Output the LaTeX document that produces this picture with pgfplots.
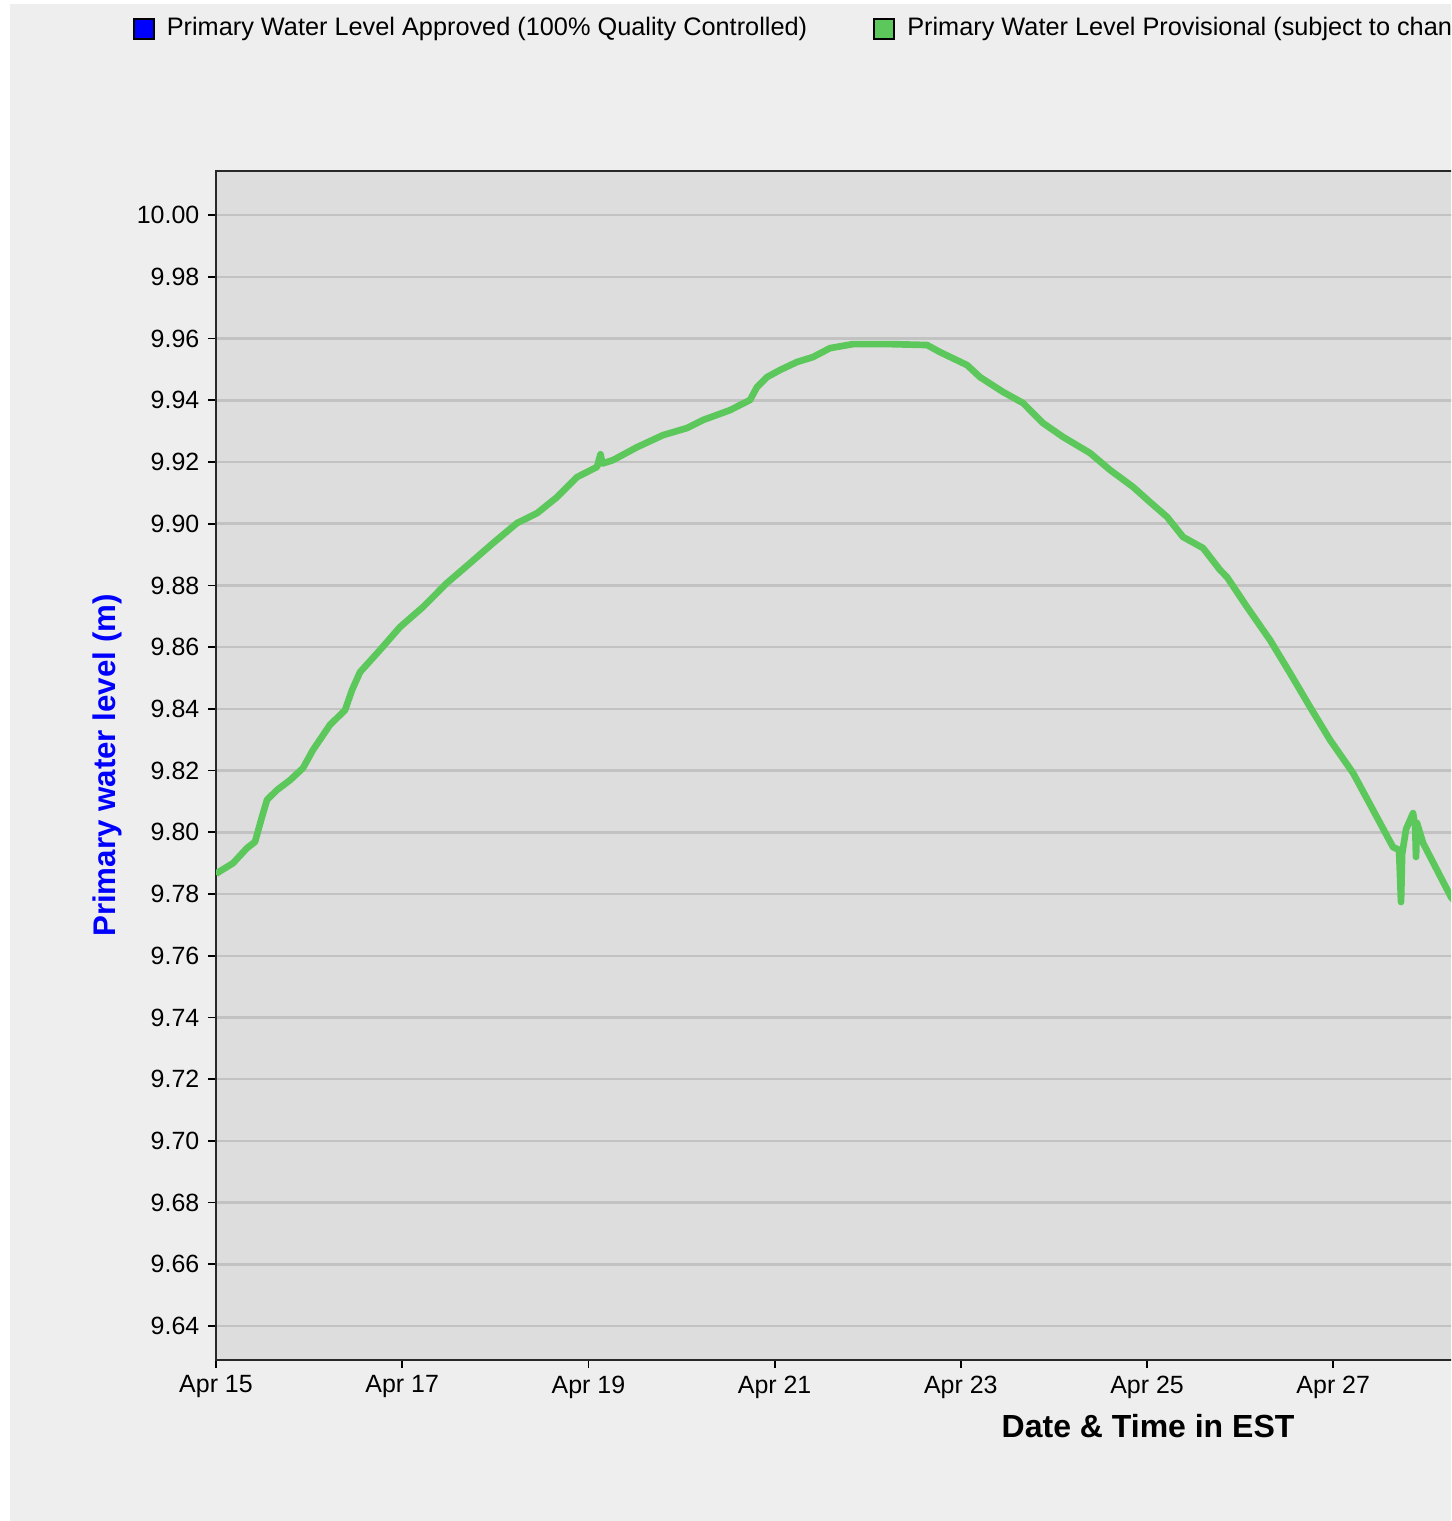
\documentclass[border=0pt]{standalone}
\usepackage{fontspec}
\setmainfont{Liberation Sans}
\usepackage{pgfplots}
\pgfplotsset{compat=1.18}
\definecolor{outerbg}{RGB}{238,238,238}
\definecolor{plotbg}{RGB}{221,221,221}
\definecolor{gridc}{RGB}{194,194,194}
\definecolor{linegreen}{RGB}{92,200,92}
\definecolor{framec}{RGB}{40,40,40}
\begin{document}
\begin{tikzpicture}[x=1cm,y=1cm]
\path[use as bounding box] (0,0) rectangle (14.51,15.21);
\clip (0,0) rectangle (14.51,15.21);
\fill[white] (0,0) rectangle (14.51,15.21);
\fill[outerbg] (0.10,0) rectangle (14.51,15.17);
\begin{axis}[
  at={(2.16cm,1.61cm)}, anchor=south west,
  scale only axis, width=12.65cm, height=11.89cm,
  xmin=0, xmax=13.587, ymin=9.629, ymax=10.0143,
  axis background/.style={fill=plotbg},
  axis line style={framec, line width=0.8pt},
  tick align=outside, major tick length=0.08cm,
  tick style={black, line width=0.5pt},
  tick pos=left,
  xtick={0,2,4,6,8,10,12},
  xticklabels={Apr 15,Apr 17,Apr 19,Apr 21,Apr 23,Apr 25,Apr 27},
  ytick={9.64,9.66,9.68,9.70,9.72,9.74,9.76,9.78,9.80,9.82,9.84,9.86,9.88,9.90,9.92,9.94,9.96,9.98,10.00},
  /pgf/number format/fixed, /pgf/number format/fixed zerofill,
  /pgf/number format/precision=2, /pgf/number format/assume math mode=true,
  ticklabel style={font=\fontsize{7.1}{8.5}\selectfont, inner sep=0pt},
  yticklabel style={xshift=-0.08cm},
  xticklabel style={yshift=-0.07cm},
  ymajorgrids=true,
  major grid style={gridc, line width=0.7pt},
  xlabel={Date \& Time in EST},
  xlabel style={at={(axis description cs:0.7368,0)}, anchor=base, yshift=-0.78cm, font=\bfseries\fontsize{9.1}{11}\selectfont},
  ylabel={Primary water level (m)},
  ylabel style={at={(axis description cs:-0.08617,0.5)}, anchor=center, font=\bfseries\fontsize{8.9}{11}\selectfont, color=blue},
  legend image code/.code={\draw[#1, draw=black, line width=0.6pt] (0cm,-0.1cm) rectangle (0.2cm,0.1cm);},
  legend style={at={(axis description cs:-0.0664,1.1195)}, anchor=west, draw=none, fill=none, inner sep=0pt,
    font=\fontsize{7.2}{8.5}\selectfont, nodes={inner sep=0pt},
    /tikz/every odd column/.append style={column sep=0.12cm},
    /tikz/every even column/.append style={column sep=0.66cm}},
  legend columns=2, legend cell align=left,
]
\addlegendimage{fill=blue}
\addlegendentry{Primary Water Level Approved (100\% Quality Controlled)}
\addlegendimage{fill=linegreen}
\addlegendentry{Primary Water Level Provisional (subject to change)}
\addplot[linegreen, line width=1.9pt, line join=round, forget plot] coordinates {
(0.000,9.7862) (0.011,9.7868) (0.183,9.7900) (0.333,9.7949) (0.419,9.7969)
(0.494,9.8050) (0.548,9.8105) (0.655,9.8137) (0.795,9.8169) (0.934,9.8208)
(1.042,9.8267) (1.224,9.8348) (1.386,9.8396) (1.461,9.8461) (1.547,9.8519)
(1.762,9.8591) (1.976,9.8665) (2.223,9.8730) (2.481,9.8808) (2.728,9.8872)
(2.975,9.8937) (3.233,9.9002) (3.448,9.9034) (3.663,9.9086) (3.878,9.9151)
(4.092,9.9184) (4.130,9.9225) (4.150,9.9195) (4.264,9.9206) (4.522,9.9248)
(4.801,9.9287) (5.059,9.9310) (5.231,9.9336) (5.521,9.9368) (5.736,9.9401)
(5.811,9.9443) (5.918,9.9475) (6.058,9.9498) (6.240,9.9524) (6.412,9.9540)
(6.595,9.9569) (6.842,9.9582) (7.240,9.9582) (7.637,9.9579) (7.777,9.9556)
(8.067,9.9514) (8.206,9.9475) (8.453,9.9427) (8.668,9.9391) (8.883,9.9326)
(9.098,9.9281) (9.388,9.9229) (9.603,9.9174) (9.850,9.9119) (10.032,9.9070)
(10.215,9.9022) (10.387,9.8957) (10.602,9.8921) (10.784,9.8850) (10.859,9.8827)
(11.074,9.8730) (11.321,9.8623) (11.536,9.8516) (11.751,9.8406) (11.966,9.8299)
(12.213,9.8192) (12.428,9.8072) (12.642,9.7952) (12.707,9.7943) (12.728,9.7774)
(12.740,9.7930) (12.782,9.8010) (12.857,9.8062) (12.880,9.8020) (12.889,9.7920)
(12.900,9.8030) (12.965,9.7965) (13.265,9.7790) (13.300,9.7778)
};
\end{axis}
\end{tikzpicture}
\end{document}
